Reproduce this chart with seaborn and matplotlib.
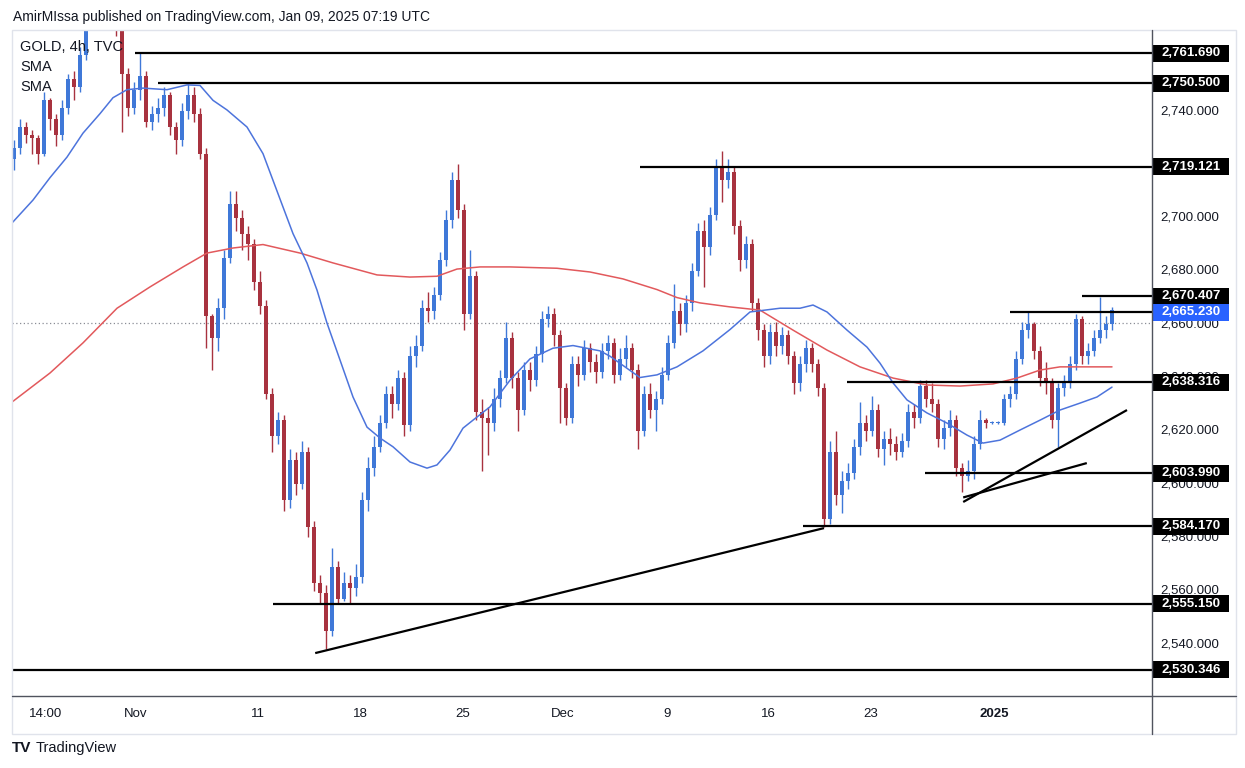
import numpy as np
import pandas as pd
import matplotlib
matplotlib.use("Agg")
import matplotlib.pyplot as plt
import matplotlib.transforms as mtransforms
from matplotlib.patches import Rectangle
from matplotlib.lines import Line2D
import seaborn as sns

# ---------------- data ----------------
open_first = 2722.0
close = [2726, 2734, 2731, 2730, 2724, 2744, 2737, 2731, 2741, 2752,
         2749, 2761, 2776, 2786, 2789, 2784, 2779, 2773, 2754, 2741,
         2748, 2753, 2736, 2739, 2741, 2746, 2734, 2729, 2740, 2746,
         2739, 2724, 2663, 2655, 2666, 2685, 2705, 2700, 2694, 2690,
         2676, 2667, 2634, 2618, 2624, 2594, 2609, 2600, 2612, 2584,
         2563, 2559, 2545, 2569, 2557, 2563, 2561, 2565, 2594, 2606,
         2614, 2623, 2634, 2630, 2640, 2622, 2648, 2652, 2666, 2665,
         2671, 2684, 2699, 2714, 2703, 2664, 2678, 2627, 2625, 2623,
         2632, 2640, 2655, 2640, 2628, 2643, 2639, 2649, 2662, 2664,
         2656, 2636, 2625, 2645, 2641, 2651, 2646, 2642, 2650, 2653,
         2641, 2647, 2651, 2643, 2620, 2634, 2628, 2632, 2641, 2653,
         2665, 2660, 2668, 2680, 2695, 2689, 2701, 2719, 2714, 2717,
         2697, 2684, 2690, 2668, 2658, 2648, 2657, 2652, 2656, 2648,
         2638, 2645, 2651, 2645, 2636, 2587, 2612, 2596, 2601, 2604,
         2614, 2623, 2620, 2628, 2613, 2617, 2615, 2612, 2616, 2627,
         2625, 2637, 2632, 2630, 2617, 2621, 2624, 2606, 2603, 2605,
         2615, 2624, 2623, 2623, 2623, 2632, 2634, 2647, 2658, 2660,
         2650, 2640, 2638, 2624, 2636, 2638, 2645, 2662, 2648, 2650,
         2655, 2658, 2660, 2665.23]
high = [2729, 2737, 2736, 2733, 2731, 2747, 2745, 2739, 2744, 2754,
        2755, 2764, 2782, 2790, 2795, 2792, 2788, 2782, 2775, 2756,
        2751, 2762, 2755, 2742, 2745, 2749, 2747, 2736, 2743, 2750,
        2749, 2741, 2726, 2664, 2670, 2688, 2710, 2710, 2703, 2697,
        2692, 2680, 2669, 2636, 2627, 2626, 2613, 2612, 2616, 2614,
        2586, 2566, 2562, 2576, 2571, 2567, 2566, 2570, 2597, 2610,
        2618, 2626, 2637, 2637, 2643, 2642, 2652, 2656, 2669, 2672,
        2674, 2687, 2703, 2717, 2720, 2705, 2688, 2680, 2632, 2629,
        2636, 2643, 2661, 2657, 2642, 2646, 2646, 2652, 2665, 2667,
        2666, 2658, 2638, 2648, 2648, 2654, 2653, 2649, 2653, 2656,
        2655, 2651, 2656, 2653, 2645, 2637, 2638, 2635, 2644, 2656,
        2675, 2668, 2671, 2683, 2698, 2699, 2704, 2722, 2725, 2722,
        2719, 2699, 2693, 2692, 2670, 2660, 2660, 2661, 2659, 2658,
        2650, 2648, 2654, 2653, 2647, 2638, 2616, 2620, 2605, 2608,
        2617, 2631, 2626, 2633, 2630, 2620, 2621, 2618, 2619, 2630,
        2630, 2639, 2639, 2638, 2632, 2624, 2628, 2626, 2608, 2609,
        2618, 2628, 2625, 2623.5, 2623.5, 2634, 2637, 2650, 2661, 2665,
        2661, 2652, 2646, 2640, 2638, 2641, 2648, 2664, 2663, 2653,
        2658, 2670.4, 2663, 2666.5]
low = [2718, 2724, 2728, 2724, 2720, 2723, 2733, 2727, 2729, 2739,
       2744, 2747, 2759, 2774, 2782, 2779, 2775, 2768, 2732, 2738,
       2739, 2744, 2734, 2733, 2736, 2738, 2731, 2724, 2727, 2737,
       2736, 2722, 2651, 2643, 2650, 2662, 2683, 2695, 2688, 2684,
       2673, 2664, 2632, 2612, 2615, 2590, 2591, 2596, 2598, 2580,
       2560, 2555, 2538, 2543, 2555, 2556, 2555, 2558, 2563, 2590,
       2603, 2612, 2621, 2625, 2628, 2618, 2620, 2644, 2650, 2661,
       2662, 2669, 2682, 2696, 2700, 2658, 2662, 2624, 2605, 2611,
       2620, 2629, 2638, 2636, 2620, 2626, 2635, 2637, 2646, 2659,
       2652, 2623, 2622, 2623, 2637, 2639, 2642, 2638, 2640, 2647,
       2638, 2639, 2644, 2640, 2613, 2618, 2625, 2620, 2630, 2639,
       2651, 2656, 2657, 2665, 2678, 2674, 2686, 2699, 2706, 2711,
       2694, 2680, 2681, 2665, 2654, 2644, 2645, 2648, 2649, 2645,
       2634, 2635, 2642, 2642, 2633, 2584, 2585, 2592, 2589, 2598,
       2602, 2611, 2616, 2618, 2610, 2607, 2611, 2609, 2610, 2614,
       2621, 2623, 2629, 2627, 2614, 2613, 2618, 2603, 2597, 2601,
       2602, 2613, 2621, 2622.5, 2622.5, 2622, 2629, 2632, 2645, 2655,
       2647, 2637, 2634, 2621, 2614, 2633, 2636, 2643, 2645, 2645,
       2648, 2653, 2655, 2658]

# moving averages (bar index, price)
sma_fast_bar = [-0.33, 3.17, 6.0, 8.83, 11.5, 14.33, 16.5, 18.83, 21.5, 25.5,
                28.83, 31.0, 33.17, 35.5, 38.83, 41.5, 44.83, 46.5, 48.83, 50.5,
                52.17, 54.33, 56.5, 58.83, 61.0, 63.17, 66.0, 68.83, 70.5, 72.67,
                74.83, 76.5, 79.33, 82.67, 86.0, 89.83, 93.17, 97.67, 99.33, 104.33,
                107.17, 110.5, 114.83, 119.33, 122.67, 127.67, 131.0, 133.17, 135.5,
                138.83, 142.17, 144.33, 146.5, 148.83, 152.17, 155.5, 158.83, 161.5,
                164.33, 167.67, 171.0, 174.33, 177.67, 180.5, 183.0]
sma_fast_val = [2698, 2706.6, 2715, 2722.7, 2731.7, 2739, 2745, 2748, 2748.6, 2748,
                2749.8, 2749.6, 2744, 2740.4, 2734, 2724, 2704, 2694, 2683, 2672.8,
                2660.4, 2646.6, 2632.7, 2621.4, 2617.3, 2614, 2608.3, 2606, 2607.2, 2612.8,
                2621, 2624, 2629, 2639, 2647, 2651, 2652, 2650, 2648, 2640,
                2641, 2644, 2650, 2658, 2664.6, 2666, 2666, 2667.2, 2664.6,
                2657.8, 2651.4, 2645.4, 2638, 2631.6, 2626.7, 2622.9, 2618.4, 2615.4,
                2616.5, 2620.3, 2624, 2627.8, 2630.4, 2632.7, 2636.4]
sma_slow_bar = [-0.33, 6.0, 11.5, 17.17, 22.67, 28.17, 32.17, 36.5, 41.5, 47.67,
                53.17, 60.5, 66.0, 70.5, 73.83, 77.67, 82.67, 90.5, 96.0, 101.5,
                107.17, 110.5, 114.33, 119.33, 124.33, 129.83, 135.5, 141.0, 146.5,
                152.17, 157.67, 163.17, 167.17, 171.0, 174.33, 183.0]
sma_slow_val = [2630.8, 2641.7, 2653, 2666, 2674, 2681.5, 2686.7, 2688.6, 2689.9, 2686.7,
                2683, 2678.5, 2677.7, 2678, 2680.7, 2681.5, 2681.5, 2681, 2679.6, 2677,
                2673, 2670, 2668, 2666.5, 2665.3, 2657.8, 2650.3, 2644, 2639.8,
                2637.2, 2636.8, 2637.6, 2639.8, 2642.8, 2644, 2644]

# horizontal levels: price, bar where the line begins, labelled?
level_price = [2761.690, 2750.500, 2719.121, 2670.407, 2664.6, 2638.316,
               2603.990, 2584.170, 2555.150, 2530.346]
level_start = [20.2, 24.0, 104.3, 178.0, 166.0, 138.8, 151.8, 131.5, 43.2, -1.0]
level_label = [True, True, True, True, False, True, True, True, True, True]

# trend lines: (bar0, price0, bar1, price1)
trend_lines = [(50.2, 2536.6, 135.0, 2583.5),
               (158.2, 2595.0, 178.8, 2607.9),
               (158.2, 2593.3, 185.5, 2627.8)]

last_price = 2665.230
ref_line_price = 2660.3
price_ticks = [2540, 2560, 2580, 2600, 2620, 2640, 2660, 2680, 2700, 2720, 2740]
date_labels = ["14:00", "Nov", "11", "18", "25", "Dec", "9", "16", "23", "2025"]
date_bars = [5.2, 20.3, 40.7, 57.8, 74.8, 91.5, 108.8, 125.8, 142.7, 163.3]

# ---------------- styling ----------------
sns.set_theme(style="white")
plt.rcParams['font.family'] = ['Liberation Sans', 'DejaVu Sans']

W, H = 1245, 768
def fx(px):
    return px / W
def fy(py):
    return 1 - py / H

BLUE = "#3f78d8"
RED = "#a8323f"
TXT = "#131722"

fig = plt.figure(figsize=(W / 100, H / 100), dpi=100)
fig.patch.set_facecolor("white")
ax = fig.add_axes([fx(12), fy(696), (1152 - 12) / W, (696 - 30) / H])
ax.set_facecolor("white")

c = np.asarray(close, dtype=float)
o = np.r_[open_first, c[:-1]]
hi = np.maximum(np.asarray(high, float), np.maximum(o, c))
lo = np.minimum(np.asarray(low, float), np.minimum(o, c))
bars = np.arange(len(c))
up = c >= o
cols = np.where(up, BLUE, RED)

ax.vlines(bars, lo, hi, colors=cols, lw=1.0, zorder=3)
ax.bar(bars, np.maximum(np.abs(c - o), 0.4), bottom=np.minimum(o, c),
       width=0.58, color=cols, linewidth=0, zorder=3)

# SMAs
df_fast = pd.DataFrame({"bar": sma_fast_bar, "price": sma_fast_val})
df_slow = pd.DataFrame({"bar": sma_slow_bar, "price": sma_slow_val})
sns.lineplot(data=df_slow, x="bar", y="price", ax=ax, color="#e2595c", lw=1.1, zorder=4)
sns.lineplot(data=df_fast, x="bar", y="price", ax=ax, color="#4d74dc", lw=1.1, zorder=4)

xmin, xmax = (12 - 14) / 6, (1152 - 14) / 6
ax.set_xlim(xmin, xmax)
ax.set_ylim(2520.5, 2770.4)

# reference dotted line
ax.axhline(ref_line_price, color="#8a8d96", lw=0.9, ls=(0, (1, 2)), zorder=2)

# horizontal levels
for p, s in zip(level_price, level_start):
    ax.hlines(p, max(s, xmin), xmax, color="black", lw=1.6, zorder=5)

# trend lines
for b0, p0, b1, p1 in trend_lines:
    ax.plot([b0, b1], [p0, p1], color="black", lw=1.6, zorder=5,
            solid_capstyle="butt")

ax.set_xticks([])
ax.set_yticks([])
ax.set_xlabel("")
ax.set_ylabel("")
for sp in ax.spines.values():
    sp.set_visible(False)

# price axis labels
tr_y = mtransforms.blended_transform_factory(fig.transFigure, ax.transData)
for t in price_ticks:
    ax.text(fx(1160), t, f"{t:,.3f}", transform=tr_y, ha="left", va="center",
            fontsize=9.5, color=TXT, clip_on=False, zorder=6)

box_h = 17 / 2.665
for p, lab in zip(level_price, level_label):
    if not lab:
        continue
    ax.add_patch(Rectangle((fx(1153), p - box_h / 2), fx(76), box_h,
                           transform=tr_y, facecolor="black", edgecolor="none",
                           clip_on=False, zorder=7))
    ax.text(fx(1191), p, f"{p:,.3f}", transform=tr_y, ha="center", va="center",
            fontsize=9.5, color="white", fontweight="bold", clip_on=False, zorder=8)
# last price (shifted below the neighbouring label as TradingView does)
lp_pos = last_price - 0.8
ax.add_patch(Rectangle((fx(1153), lp_pos - box_h / 2), fx(76), box_h,
                       transform=tr_y, facecolor="#2962ff", edgecolor="none",
                       clip_on=False, zorder=9))
ax.text(fx(1191), lp_pos, f"{last_price:,.3f}", transform=tr_y, ha="center",
        va="center", fontsize=9.5, color="white", fontweight="bold",
        clip_on=False, zorder=10)

# date axis labels
tr_x = mtransforms.blended_transform_factory(ax.transData, fig.transFigure)
for lab, b in zip(date_labels, date_bars):
    ax.text(b, fy(714), lab, transform=tr_x, ha="center", va="center",
            fontsize=9.5, color=TXT, clip_on=False,
            fontweight="bold" if lab == "2025" else "normal")

# frame lines
fig.add_artist(Rectangle((fx(12), fy(734)), fx(1236 - 12), (734 - 30) / H,
                         transform=fig.transFigure, fill=False,
                         edgecolor="#e0e3eb", lw=1.0))
fig.add_artist(Line2D([fx(12), fx(1236)], [fy(696), fy(696)],
                      transform=fig.transFigure, color="#50535e", lw=1.0))
fig.add_artist(Line2D([fx(1152), fx(1152)], [fy(30), fy(734)],
                      transform=fig.transFigure, color="#50535e", lw=1.0))

# texts
fig.text(fx(13), fy(17), "AmirMIssa published on TradingView.com, Jan 09, 2025 07:19 UTC",
         ha="left", va="center", fontsize=10, color=TXT)
fig.text(fx(20), fy(47), "GOLD, 4h, TVC", ha="left", va="center", fontsize=10.5, color=TXT)
fig.text(fx(20), fy(67), "SMA", ha="left", va="center", fontsize=10.5, color=TXT)
fig.text(fx(20), fy(87), "SMA", ha="left", va="center", fontsize=10.5, color=TXT)
fig.text(fx(12), fy(748), "TV", ha="left", va="center", fontsize=11,
         fontweight="heavy", color=TXT)
fig.text(fx(36), fy(748), "TradingView", ha="left", va="center", fontsize=10.5, color=TXT)

fig.savefig("out.png", dpi=100, facecolor="white")
